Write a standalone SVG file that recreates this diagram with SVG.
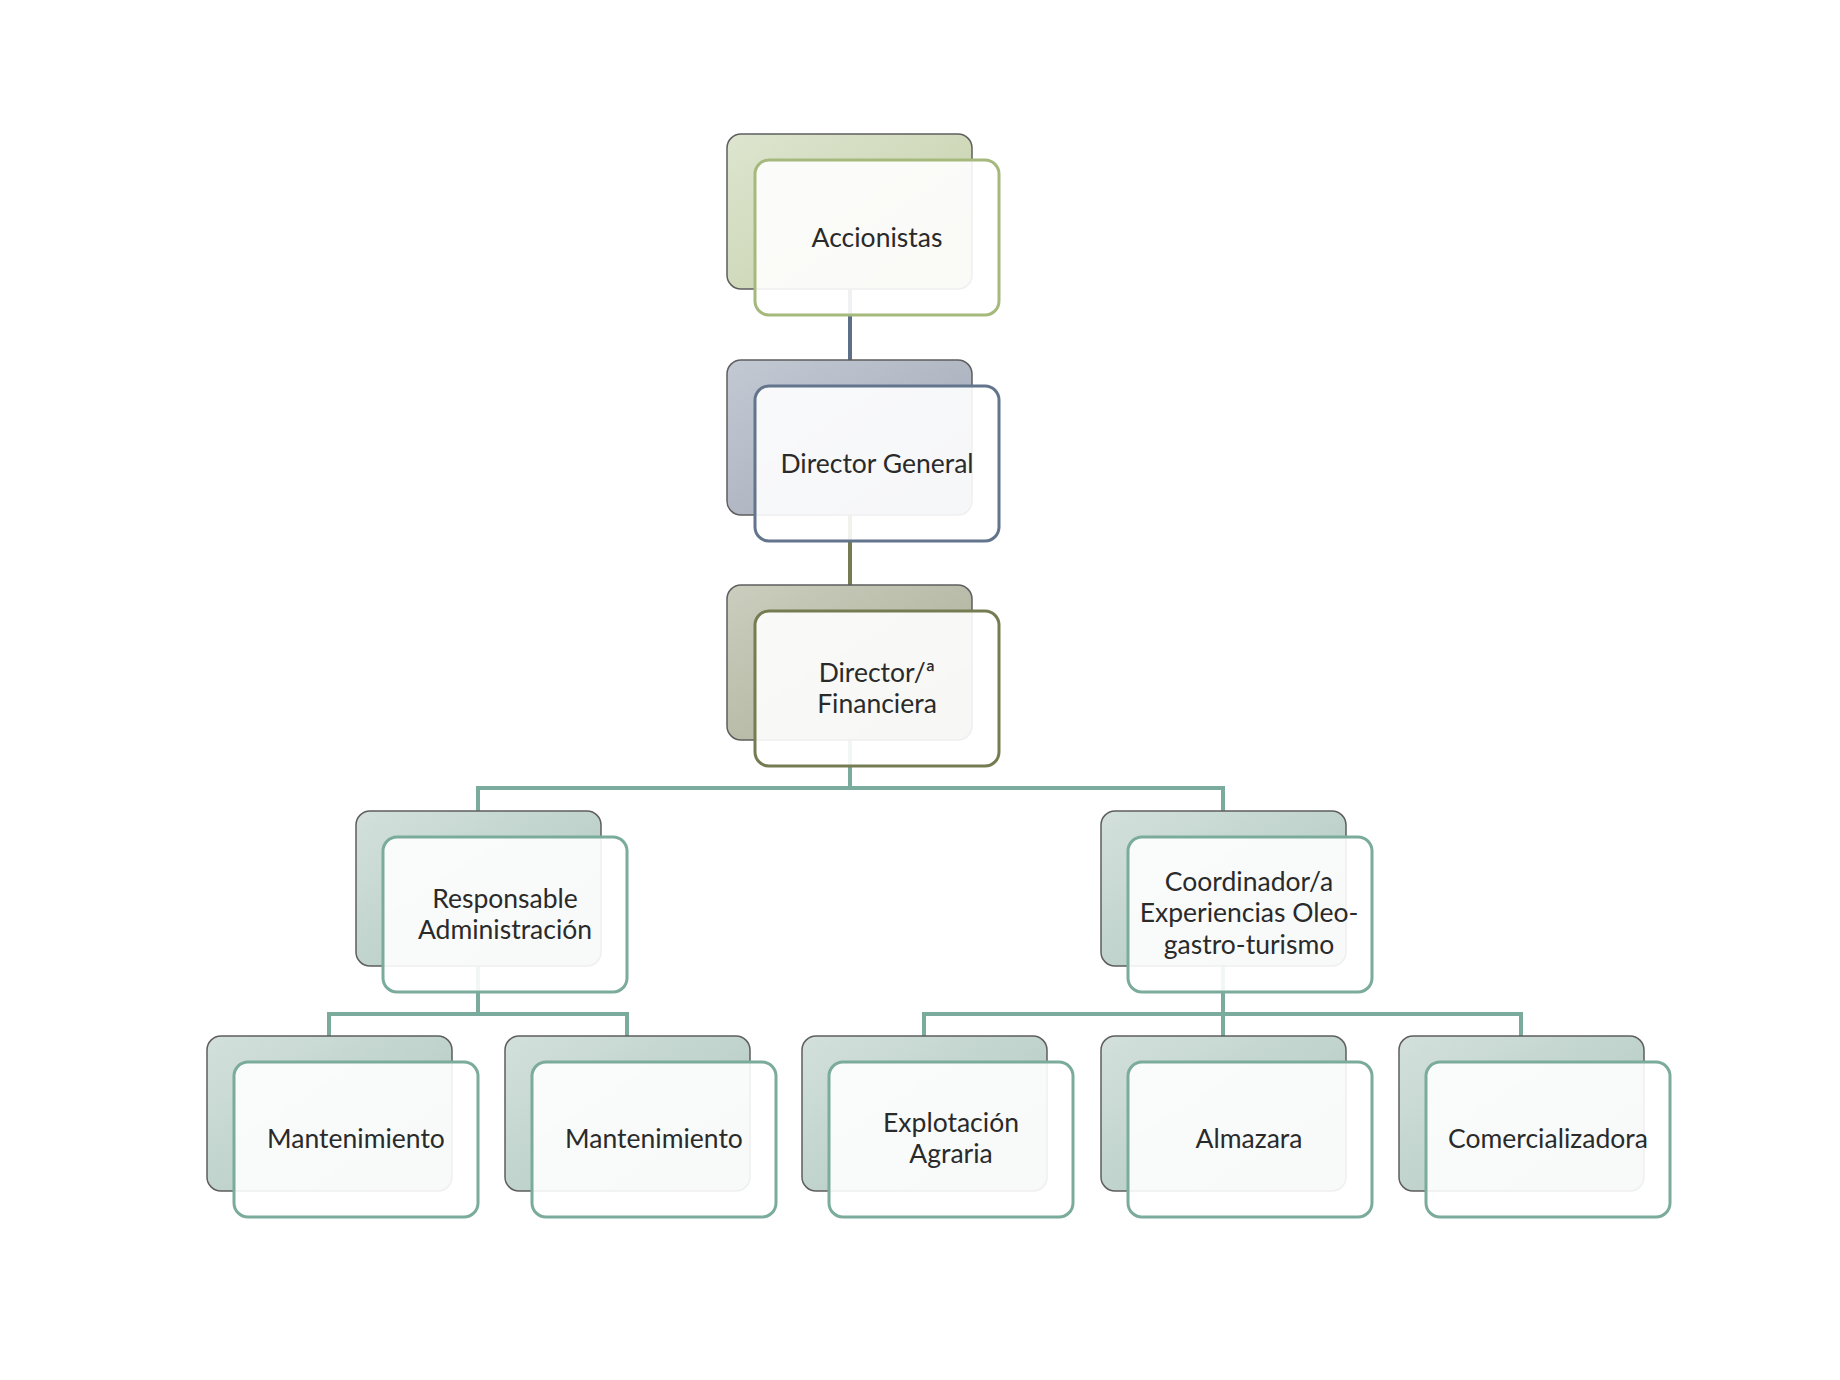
<svg xmlns="http://www.w3.org/2000/svg" width="1840" height="1380" viewBox="0 0 1840 1380">
<style>
  .back { stroke: #5e5e5e; stroke-width: 1.5; }
  .front { fill: #ffffff; fill-opacity: 0.9; stroke-width: 3; }
  .lbl { font-family: Lato, "Open Sans", sans-serif; font-size: 26.5px; fill: #2a2a2a; text-anchor: middle; }
  .conn { fill: none; stroke-width: 4; }
  .teal { stroke: #7aab9c; }
</style>
<defs>
  <linearGradient id="gAcc" x1="0" y1="0" x2="1" y2="1">
    <stop offset="0" stop-color="#dde5cf"/>
    <stop offset="1" stop-color="#c4cfa8"/>
  </linearGradient>
  <linearGradient id="gDG" x1="0" y1="0" x2="1" y2="1">
    <stop offset="0" stop-color="#c3c9d3"/>
    <stop offset="1" stop-color="#a0a8b6"/>
  </linearGradient>
  <linearGradient id="gDF" x1="0" y1="0" x2="1" y2="1">
    <stop offset="0" stop-color="#cbcdbe"/>
    <stop offset="1" stop-color="#a9ad94"/>
  </linearGradient>
  <linearGradient id="gTeal" x1="0" y1="0" x2="1" y2="1">
    <stop offset="0" stop-color="#d3e0db"/>
    <stop offset="1" stop-color="#aec7bf"/>
  </linearGradient>
</defs>
<rect width="1840" height="1380" fill="#ffffff"/>

<g id="connectors">
  <path class="conn" stroke="#5d7088" d="M850,288 V360"/>
  <path class="conn" stroke="#767b52" d="M850,514 V585"/>
  <path class="conn teal" d="M850,740 V788 H478 V811 M850,788 H1223 V811"/>
  <path class="conn teal" d="M478,966 V1014 H329 V1036 M478,1014 H627 V1036"/>
  <path class="conn teal" d="M1223,966 V1036 M1223,1014 H924 V1036 M1223,1014 H1521 V1036"/>
</g>

<g id="accionistas">
  <rect class="back" x="727" y="134" width="245" height="155" rx="14" fill="url(#gAcc)"/>
  <rect class="front" x="755" y="160" width="244" height="155" rx="14" stroke="#a6b97c"/>
  <text class="lbl" x="877" y="247">Accionistas</text>
</g>

<g id="director-general">
  <rect class="back" x="727" y="360" width="245" height="155" rx="14" fill="url(#gDG)"/>
  <rect class="front" x="755" y="386" width="244" height="155" rx="14" stroke="#63758c"/>
  <text class="lbl" x="877" y="473">Director General</text>
</g>

<g id="director-financiera">
  <rect class="back" x="727" y="585" width="245" height="155" rx="14" fill="url(#gDF)"/>
  <rect class="front" x="755" y="611" width="244" height="155" rx="14" stroke="#767c52"/>
  <text class="lbl" x="877" y="682">Director/ª</text>
  <text class="lbl" x="877" y="713">Financiera</text>
</g>

<g id="responsable-administracion">
  <rect class="back" x="356" y="811" width="245" height="155" rx="14" fill="url(#gTeal)"/>
  <rect class="front" x="383" y="837" width="244" height="155" rx="14" stroke="#7aab9c"/>
  <text class="lbl" x="505" y="908">Responsable</text>
  <text class="lbl" x="505" y="939">Administración</text>
</g>

<g id="coordinador">
  <rect class="back" x="1101" y="811" width="245" height="155" rx="14" fill="url(#gTeal)"/>
  <rect class="front" x="1128" y="837" width="244" height="155" rx="14" stroke="#7aab9c"/>
  <text class="lbl" x="1249" y="891">Coordinador/a</text>
  <text class="lbl" x="1249" y="922">Experiencias Oleo-</text>
  <text class="lbl" x="1249" y="954">gastro-turismo</text>
</g>

<g id="mantenimiento-1">
  <rect class="back" x="207" y="1036" width="245" height="155" rx="14" fill="url(#gTeal)"/>
  <rect class="front" x="234" y="1062" width="244" height="155" rx="14" stroke="#7aab9c"/>
  <text class="lbl" x="356" y="1148">Mantenimiento</text>
</g>

<g id="mantenimiento-2">
  <rect class="back" x="505" y="1036" width="245" height="155" rx="14" fill="url(#gTeal)"/>
  <rect class="front" x="532" y="1062" width="244" height="155" rx="14" stroke="#7aab9c"/>
  <text class="lbl" x="654" y="1148">Mantenimiento</text>
</g>

<g id="explotacion-agraria">
  <rect class="back" x="802" y="1036" width="245" height="155" rx="14" fill="url(#gTeal)"/>
  <rect class="front" x="829" y="1062" width="244" height="155" rx="14" stroke="#7aab9c"/>
  <text class="lbl" x="951" y="1132">Explotación</text>
  <text class="lbl" x="951" y="1163">Agraria</text>
</g>

<g id="almazara">
  <rect class="back" x="1101" y="1036" width="245" height="155" rx="14" fill="url(#gTeal)"/>
  <rect class="front" x="1128" y="1062" width="244" height="155" rx="14" stroke="#7aab9c"/>
  <text class="lbl" x="1249" y="1148">Almazara</text>
</g>

<g id="comercializadora">
  <rect class="back" x="1399" y="1036" width="245" height="155" rx="14" fill="url(#gTeal)"/>
  <rect class="front" x="1426" y="1062" width="244" height="155" rx="14" stroke="#7aab9c"/>
  <text class="lbl" x="1548" y="1148">Comercializadora</text>
</g>
</svg>
